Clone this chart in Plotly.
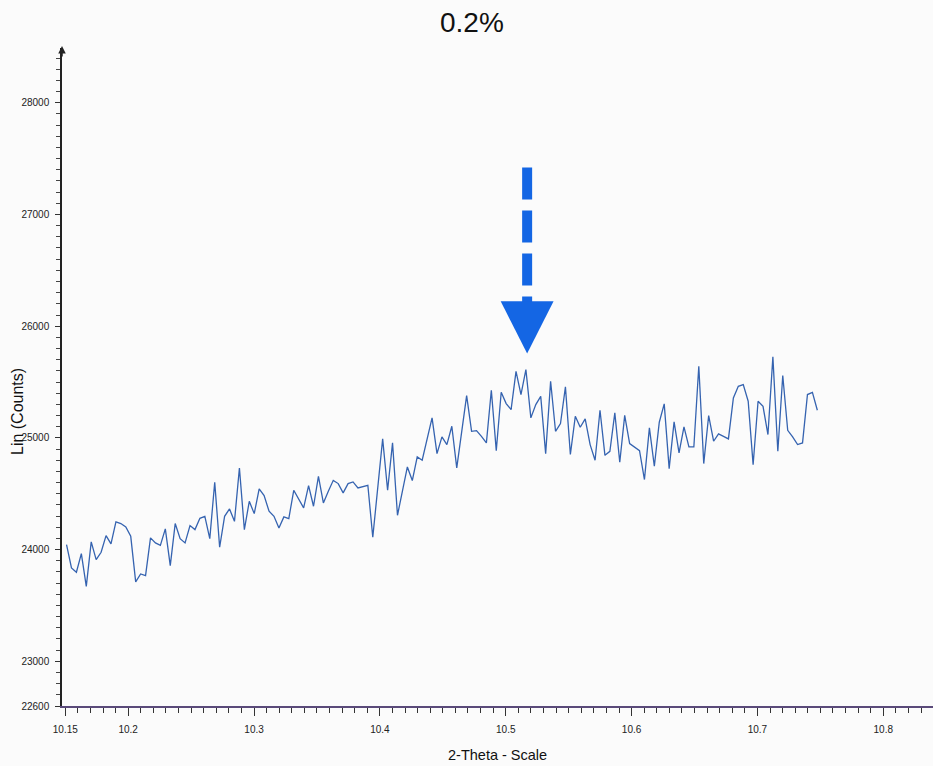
import plotly.graph_objects as go

# ---- data ----
x_start = 10.151
x_step = 0.003925
counts = [
    24045, 23836, 23797, 23964, 23671, 24069, 23910, 23976, 24125, 24051,
    24248, 24233, 24203, 24119, 23711, 23782, 23767, 24105, 24060, 24038,
    24185, 23857, 24233, 24098, 24060, 24215, 24179, 24280, 24298, 24098,
    24603, 24021, 24298, 24364, 24253, 24731, 24179, 24432, 24322, 24543,
    24483, 24343, 24298, 24194, 24293, 24278, 24531, 24454, 24373, 24573,
    24388, 24656, 24418, 24522, 24620, 24591, 24508, 24591, 24606, 24552,
    24561, 24576, 24110, 24552, 24991, 24531, 24955, 24307, 24522, 24740,
    24618, 24830, 24800, 25000, 25179, 24859, 25009, 24940, 25104, 24731,
    25059, 25379, 25059, 25065, 25014, 24955, 25426, 24886, 25408, 25307,
    25253, 25596, 25388, 25612, 25179, 25298, 25372, 24859, 25507, 25059,
    25128, 25457, 24851, 25193, 25095, 25170, 24940, 24800, 25247, 24844,
    24880, 25224, 24782, 25202, 24949, 24916, 24886, 24627, 25090, 24746,
    25140, 25304, 24725, 25143, 24866, 25099, 24919, 24919, 25641, 24770,
    25200, 24970, 25036, 25014, 24991, 25358, 25462, 25477, 25328, 24761,
    25328, 25283, 25030, 25725, 24880, 25558, 25068, 25009, 24940, 24955,
    25388, 25408, 25247,
]
two_theta = [round(x_start + i * x_step, 5) for i in range(len(counts))]

x_tickvals = [10.15, 10.2, 10.3, 10.4, 10.5, 10.6, 10.7, 10.8]
x_ticktext = ["10.15", "10.2", "10.3", "10.4", "10.5", "10.6", "10.7", "10.8"]
y_tickvals = [22600, 23000, 24000, 25000, 26000, 27000, 28000]
y_ticktext = ["22600", "23000", "24000", "25000", "26000", "27000", "28000"]

title_text = "0.2%"
x_title = "2-Theta - Scale"
y_title = "Lin (Counts)"

# marker arrow (dashed shaft + head), in data coords
arrow_x = 10.517
arrow_top = 27420
arrow_base = 26223
arrow_tip = 25755
arrow_halfwidth = 0.021

x_range = [10.1474, 10.8395]
y_range = [22600, 28490]

arrow_color = "#1466e4"
line_color = "#3563b0"

fig = go.Figure()
fig.add_trace(go.Scatter(
    x=two_theta, y=counts, mode="lines",
    line=dict(color=line_color, width=1.3),
    hoverinfo="x+y", showlegend=False,
))

fig.add_shape(type="line", xref="x", yref="y",
              x0=arrow_x, x1=arrow_x, y0=arrow_top, y1=arrow_base - 40,
              line=dict(color=arrow_color, width=10, dash="32px,11px"))
fig.add_shape(type="path", xref="x", yref="y",
              path=(f"M {arrow_x - arrow_halfwidth} {arrow_base} "
                    f"L {arrow_x + arrow_halfwidth} {arrow_base} "
                    f"L {arrow_x} {arrow_tip} Z"),
              fillcolor=arrow_color, line=dict(color=arrow_color, width=0))

font_tick = dict(family="Liberation Sans, Arial, sans-serif", size=10, color="#222")

fig.update_xaxes(
    range=x_range, tickmode="array", tickvals=x_tickvals, ticktext=x_ticktext,
    showgrid=False, zeroline=False, showline=True, linecolor="#5a4a7a", linewidth=1.5,
    ticks="outside", ticklen=8, tickcolor="#333", tickwidth=1,
    tickfont=font_tick, ticklabelstandoff=5,
    minor=dict(tick0=10.0, dtick=0.01, ticks="outside", ticklen=5, tickcolor="#333", showgrid=False),
)
fig.update_yaxes(
    range=y_range, tickmode="array", tickvals=y_tickvals, ticktext=y_ticktext,
    showgrid=False, zeroline=False, showline=True, linecolor="#222", linewidth=1.5,
    ticks="outside", ticklen=5, tickcolor="#333", tickwidth=1,
    tickfont=font_tick, ticklabelstandoff=4,
    minor=dict(tick0=22000, dtick=100, ticks="outside", ticklen=4, tickcolor="#444", showgrid=False),
)

fig.add_annotation(text=title_text, xref="paper", yref="paper",
                   x=0.471, y=1 + 26 / 658, xanchor="center", yanchor="middle",
                   showarrow=False,
                   font=dict(family="Liberation Sans, Arial, sans-serif", size=28, color="#111"))
fig.add_annotation(text=x_title, xref="paper", yref="paper",
                   x=0.4995, y=-49 / 658, xanchor="center", yanchor="middle",
                   showarrow=False,
                   font=dict(family="Liberation Sans, Arial, sans-serif", size=14.5, color="#111"))
fig.add_annotation(text=y_title, xref="paper", yref="paper",
                   x=-45 / 871, y=1 - (412 - 48) / 658, xanchor="center", yanchor="middle",
                   textangle=-90, showarrow=False,
                   font=dict(family="Liberation Sans, Arial, sans-serif", size=16, color="#111"))
# axis arrowhead at top of y axis
fig.add_annotation(xref="paper", yref="paper", x=0, y=1.003, ax=0, ay=12,
                   text="", showarrow=True, arrowhead=2, arrowsize=1, arrowwidth=1.5,
                   arrowcolor="#222")

fig.update_layout(
    width=933, height=766,
    margin=dict(l=62, r=0, t=48, b=60),
    paper_bgcolor="#fbfbfb", plot_bgcolor="#fbfbfb",
    showlegend=False,
)

fig.write_html("out.html")
